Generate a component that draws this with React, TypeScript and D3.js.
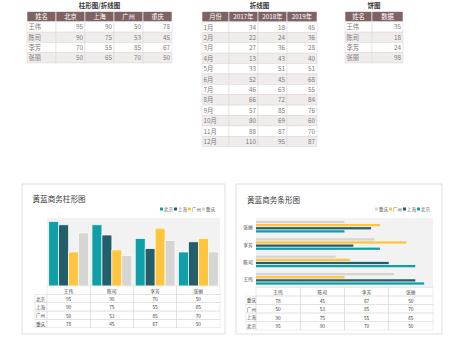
import React from 'react';
import * as d3 from 'd3';

const names = ['王伟', '陈司', '李芳', '张丽'];
const cities = ['北京', '上海', '广州', '重庆'];
const beijing = [95, 90, 70, 50];
const shanghai = [90, 75, 55, 65];
const guangzhou = [50, 53, 85, 70];
const chongqing = [78, 45, 67, 50];
const seriesValues = [beijing, shanghai, guangzhou, chongqing];

const months = ['1月', '2月', '3月', '4月', '5月', '6月', '7月', '8月', '9月', '10月', '11月', '12月'];
const years = ['2017年', '2018年', '2019年'];
const y2017 = [34, 22, 27, 13, 33, 52, 46, 66, 57, 80, 88, 110];
const y2018 = [18, 24, 36, 43, 51, 45, 63, 72, 85, 69, 87, 95];
const y2019 = [45, 36, 28, 40, 51, 68, 55, 84, 76, 60, 70, 87];

const pieHeader = ['姓名', '数据'];
const pieValues = [35, 18, 24, 98];

const colors = ['#0f9fa8', '#245e6b', '#ffc53d', '#d5d5d3'];
const FONT = '"Noto Sans CJK SC", "Noto Sans", sans-serif';
const HEAD = '#7f6363';
const SHADE = '#f0ecec';
const TXT = '#7a7a7a';
const LINE = '#dcd6d6';

type TableProps = {
  edges: number[];
  y0: number;
  rowH: number;
  header: string[];
  rows: (string | number)[][];
  title: string;
};

function DataTable({ edges, y0, rowH, header, rows, title }: TableProps) {
  const cx = (edges[0] + edges[edges.length - 1]) / 2;
  return (
    <g fontFamily={FONT}>
      <text x={cx} y={5} fontSize={6.5} fontWeight="bold" fill="#3a3a3a" textAnchor="middle" dominantBaseline="central">
        {title}
      </text>
      {header.map((h, i) => (
        <g key={'h' + i}>
          <rect x={edges[i]} y={y0} width={edges[i + 1] - edges[i]} height={rowH} fill={HEAD} stroke="#fff" strokeWidth={0.6} />
          <text x={(edges[i] + edges[i + 1]) / 2} y={y0 + rowH / 2} fontSize={6.3} fill="#fff" textAnchor="middle" dominantBaseline="central">
            {h}
          </text>
        </g>
      ))}
      {rows.map((r, ri) => {
        const y = y0 + rowH * (ri + 1);
        return (
          <g key={'r' + ri}>
            {r.map((v, ci) => (
              <g key={ci}>
                <rect x={edges[ci]} y={y} width={edges[ci + 1] - edges[ci]} height={rowH} fill={ri % 2 === 1 ? SHADE : '#fff'} stroke={LINE} strokeWidth={0.5} />
                <text
                  x={ci === 0 ? edges[ci] + 1.5 : edges[ci + 1] - 2}
                  y={y + rowH / 2}
                  fontSize={6.3}
                  fill={TXT}
                  textAnchor={ci === 0 ? 'start' : 'end'}
                  dominantBaseline="central"
                >
                  {v}
                </text>
              </g>
            ))}
          </g>
        );
      })}
    </g>
  );
}

function Legend({ x0, y, order }: { x0: number; y: number; order: number[] }) {
  return (
    <g>
      {order.map((s, i) => {
        const x = x0 + i * 14;
        return (
          <g key={s}>
            <rect x={x} y={y - 1.5} width={3} height={3} fill={colors[s]} />
            <text x={x + 3.8} y={y} fontSize={4.6} fill="#595959" dominantBaseline="central">
              {cities[s]}
            </text>
          </g>
        );
      })}
    </g>
  );
}

function ColumnChart() {
  const left = 47, right = 220, top = 218, bottom = 286;
  const x = d3.scaleBand<string>().domain(names).range([left, right]).paddingInner(0.08).paddingOuter(0.04);
  const xs = d3.scaleBand<string>().domain(cities).range([0, x.bandwidth()]).padding(0);
  const y = d3.scaleLinear().domain([0, 100]).range([bottom, top]);
  const rowH = 8.35;
  const labelX = 35;
  const cols = [left, ...names.map((n) => (x(n) as number) + x.bandwidth() + x.step() * 0.04)];
  const colEdges = d3.range(names.length + 1).map((i) => left + ((right - left) / names.length) * i);
  return (
    <g fontFamily={FONT}>
      <rect x={22} y={184} width={203} height={150} fill="#fff" stroke="#d9d9d9" strokeWidth={0.8} />
      <text x={32.5} y={198} fontSize={7.6} fill="#404040" dominantBaseline="central">黄蓝商务柱形图</text>
      <Legend x0={160} y={209} order={[0, 1, 2, 3]} />
      <rect x={left} y={top} width={right - left} height={bottom - top} fill="#f2f2f2" />
      {names.map((n, i) => (
        <g key={n}>
          {cities.map((c, s) => {
            const v = seriesValues[s][i];
            return (
              <rect
                key={c}
                x={(x(n) as number) + (xs(c) as number)}
                y={y(v)}
                width={xs.bandwidth()}
                height={bottom - y(v)}
                fill={colors[s]}
                stroke="#fff"
                strokeWidth={0.7}
              />
            );
          })}
        </g>
      ))}
      {/* data table */}
      {names.map((n, i) => (
        <g key={'th' + n}>
          <rect x={colEdges[i]} y={bottom} width={colEdges[i + 1] - colEdges[i]} height={rowH} fill="none" stroke="#d9d9d9" strokeWidth={0.5} />
          <text x={(colEdges[i] + colEdges[i + 1]) / 2} y={bottom + rowH / 2} fontSize={4.8} fill="#404040" textAnchor="middle" dominantBaseline="central">{n}</text>
        </g>
      ))}
      {cities.map((c, s) => {
        const yy = bottom + rowH * (s + 1);
        return (
          <g key={'tr' + c}>
            <rect x={labelX} y={yy} width={left - labelX} height={rowH} fill="none" stroke="#d9d9d9" strokeWidth={0.5} />
            <text x={labelX + 1} y={yy + rowH / 2} fontSize={4.6} fill="#404040" dominantBaseline="central">{c}</text>
            {names.map((n, i) => (
              <g key={n}>
                <rect x={colEdges[i]} y={yy} width={colEdges[i + 1] - colEdges[i]} height={rowH} fill="none" stroke="#d9d9d9" strokeWidth={0.5} />
                <text x={(colEdges[i] + colEdges[i + 1]) / 2} y={yy + rowH / 2} fontSize={4.8} fill="#404040" textAnchor="middle" dominantBaseline="central">{seriesValues[s][i]}</text>
              </g>
            ))}
          </g>
        );
      })}
      {cols.length < 0 ? null : null}
    </g>
  );
}

function BarChart() {
  const left = 256, right = 433, top = 218, bottom = 287.5;
  const catOrder = [...names].reverse();
  const serOrder = [3, 2, 1, 0];
  const y = d3.scaleBand<string>().domain(catOrder).range([top, bottom]).paddingInner(0.33).paddingOuter(0.165);
  const ys = d3.scaleBand<number>().domain(serOrder).range([0, y.bandwidth()]).paddingInner(0.28);
  const x = d3.scaleLinear().domain([0, 100]).range([left, right]);
  const rowH = 8.5;
  const labelX = 246;
  const colEdges = d3.range(names.length + 1).map((i) => left + ((right - left) / names.length) * i);
  return (
    <g fontFamily={FONT}>
      <rect x={236} y={184} width={206} height={150} fill="#fff" stroke="#d9d9d9" strokeWidth={0.8} />
      <text x={247} y={199} fontSize={7.6} fill="#404040" dominantBaseline="central">黄蓝商务条形图</text>
      <Legend x0={375} y={209} order={serOrder} />
      <rect x={left} y={top} width={right - left} height={bottom - top} fill="#f2f2f2" />
      {catOrder.map((n) => {
        const i = names.indexOf(n);
        const by = y(n) as number;
        return (
          <g key={n}>
            <text x={248} y={by + y.bandwidth() / 2} fontSize={4.8} fill="#404040" textAnchor="middle" dominantBaseline="central">{n}</text>
            {serOrder.map((s) => (
              <rect key={s} x={left} y={by + (ys(s) as number)} width={x(seriesValues[s][i]) - left} height={ys.bandwidth()} fill={colors[s]} />
            ))}
          </g>
        );
      })}
      {names.map((n, i) => (
        <g key={'th' + n}>
          <rect x={colEdges[i]} y={bottom} width={colEdges[i + 1] - colEdges[i]} height={rowH} fill="none" stroke="#d9d9d9" strokeWidth={0.5} />
          <text x={(colEdges[i] + colEdges[i + 1]) / 2} y={bottom + rowH / 2} fontSize={4.8} fill="#404040" textAnchor="middle" dominantBaseline="central">{n}</text>
        </g>
      ))}
      {serOrder.map((s, r) => {
        const yy = bottom + rowH * (r + 1);
        return (
          <g key={'tr' + s}>
            <rect x={labelX} y={yy} width={left - labelX} height={rowH} fill="none" stroke="#d9d9d9" strokeWidth={0.5} />
            <text x={labelX + 0.8} y={yy + rowH / 2} fontSize={4.6} fill="#404040" dominantBaseline="central">{cities[s]}</text>
            {names.map((n, i) => (
              <g key={n}>
                <rect x={colEdges[i]} y={yy} width={colEdges[i + 1] - colEdges[i]} height={rowH} fill="none" stroke="#d9d9d9" strokeWidth={0.5} />
                <text x={(colEdges[i] + colEdges[i + 1]) / 2} y={yy + rowH / 2} fontSize={4.8} fill="#404040" textAnchor="middle" dominantBaseline="central">{seriesValues[s][i]}</text>
              </g>
            ))}
          </g>
        );
      })}
    </g>
  );
}

export default function App() {
  const t1Rows = names.map((n, i) => [n, beijing[i], shanghai[i], guangzhou[i], chongqing[i]]);
  const t2Rows = months.map((m, i) => [m, y2017[i], y2018[i], y2019[i]]);
  const t3Rows = names.map((n, i) => [n, pieValues[i]]);
  return (
    <svg width={450} height={340} style={{ position: 'absolute', left: 0, top: 0, background: '#fff' }}>
      <rect width={450} height={340} fill="#fff" />
      <DataTable edges={[27, 56, 85, 114, 143, 172]} y0={11.5} rowH={10.3} header={['姓名', ...cities]} rows={t1Rows} title="柱形图/折线图" />
      <DataTable edges={[202, 229, 258, 287, 317]} y0={11.5} rowH={10.4} header={['月份', ...years]} rows={t2Rows} title="折线图" />
      <DataTable edges={[345, 372, 403]} y0={11.5} rowH={10.3} header={pieHeader} rows={t3Rows} title="饼图" />
      <ColumnChart />
      <BarChart />
    </svg>
  );
}
